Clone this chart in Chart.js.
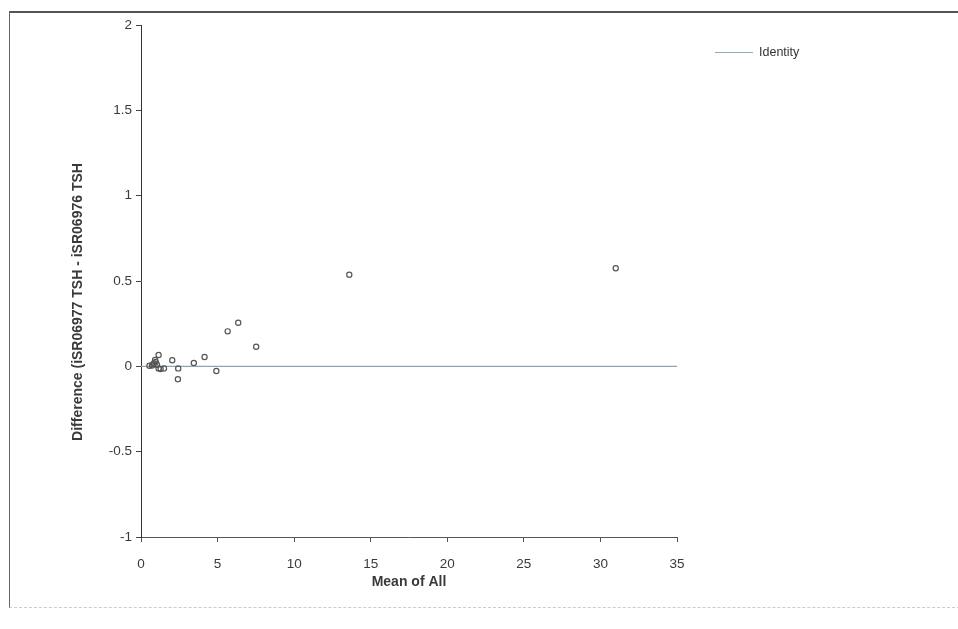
<!DOCTYPE html>
<html>
<head>
<meta charset="utf-8">
<script src="https://cdn.jsdelivr.net/npm/chart.js@4/dist/chart.umd.min.js"></script>
<style>
  html, body { margin: 0; padding: 0; background: #fff; }
  #wrap { position: relative; width: 958px; height: 629px; overflow: hidden; }
  #frame { position: absolute; left: 9px; top: 11px; width: 960px; height: 594px;
           border-top: 2px solid #555; border-left: 1px solid #666; border-bottom: 1px dashed #ccc; }
  #cv { position: absolute; left: 0; top: 0; }
  #legend { position: absolute; left: 715px; top: 45px; font: 12.5px "Liberation Sans", Arial, sans-serif;
            color: #333; display: flex; align-items: center; }
  #legend span.ln { display: inline-block; width: 38px; height: 0; border-top: 1px solid #9aa6ae; margin-right: 6px; }
</style>
</head>
<body>
<div id="wrap">
  <div id="frame"></div>
  <canvas id="cv" width="958" height="629"></canvas>
  <div id="legend"><span class="ln"></span>Identity</div>
</div>
<script>
// mean of all (x) and difference (y) for each sample
var meanAll = [0.55, 0.72, 0.80, 0.85, 0.92, 0.96, 1.04, 1.15, 1.15, 1.28, 1.50,
               2.04, 2.43, 2.41, 3.45, 4.15, 4.92, 5.66, 6.35, 7.52, 13.6, 31.0];
var diffs   = [0.003, 0.005, 0.012, 0.019, 0.037, 0.025, 0.009, 0.066, -0.012, -0.016, -0.012,
               0.036, -0.012, -0.075, 0.020, 0.055, -0.027, 0.205, 0.255, 0.115, 0.537, 0.575];
var identityX = [0, 35];
var identityY = [0, 0];
var xTicks = [0, 5, 10, 15, 20, 25, 30, 35];
var yTicks = [-1, -0.5, 0, 0.5, 1, 1.5, 2];
var yTitle = 'Difference (iSR06977 TSH - iSR06976 TSH';

var font = '"Liberation Sans", Arial, sans-serif';
var ink = '#3a3a3a';

var pts = meanAll.map(function (x, i) { return { x: x, y: diffs[i] }; });
var idLine = identityX.map(function (x, i) { return { x: x, y: identityY[i] }; });

// y title is drawn by hand: in the original it sits a bit below the axis middle
var yTitlePlugin = {
  id: 'yTitle',
  afterDraw: function (chart) {
    var c = chart.ctx;
    c.save();
    c.translate(78, 302);
    c.rotate(-Math.PI / 2);
    c.font = 'bold 14px ' + font;
    c.fillStyle = ink;
    c.textAlign = 'center';
    c.textBaseline = 'middle';
    c.fillText(yTitle, 0, 0);
    c.restore();
  }
};

new Chart(document.getElementById('cv'), {
  type: 'scatter',
  data: {
    datasets: [
      { label: 'Data', data: pts, pointRadius: 2.6, pointBorderWidth: 1.2,
        pointBorderColor: '#555', pointBackgroundColor: 'rgba(255,255,255,0)', showLine: false, order: 1 },
      { label: 'Identity', data: idLine, showLine: true, borderColor: '#94a2ac', borderWidth: 1.2,
        pointRadius: 0, order: 2 }
    ]
  },
  options: {
    responsive: false,
    animation: false,
    layout: { padding: { left: 60, top: 25, right: 281, bottom: 30 } },
    plugins: { legend: { display: false }, tooltip: { enabled: false } },
    scales: {
      x: {
        type: 'linear', min: 0, max: 35,
        afterBuildTicks: function (s) { s.ticks = xTicks.map(function (v) { return { value: v }; }); },
        afterFit: function (s) { s.height = 62; },
        grid: { drawOnChartArea: false, tickLength: 5, color: '#555' },
        border: { color: '#555', width: 1 },
        ticks: { color: ink, font: { family: font, size: 13.5 }, padding: 14, maxRotation: 0 },
        title: { display: true, text: 'Mean of All', color: ink, font: { family: font, size: 14, weight: 'bold' },
                 padding: { top: 0, bottom: 8 } }
      },
      y: {
        type: 'linear', min: -1, max: 2,
        afterBuildTicks: function (s) { s.ticks = yTicks.map(function (v) { return { value: v }; }); },
        afterFit: function (s) { s.width = 81; },
        grid: { drawOnChartArea: false, tickLength: 5, color: '#444' },
        border: { color: '#333', width: 1 },
        ticks: { color: ink, font: { family: font, size: 13.5 }, padding: 4,
                 callback: function (v) { return String(v); } }
      }
    }
  },
  plugins: [yTitlePlugin]
});
</script>
</body>
</html>
